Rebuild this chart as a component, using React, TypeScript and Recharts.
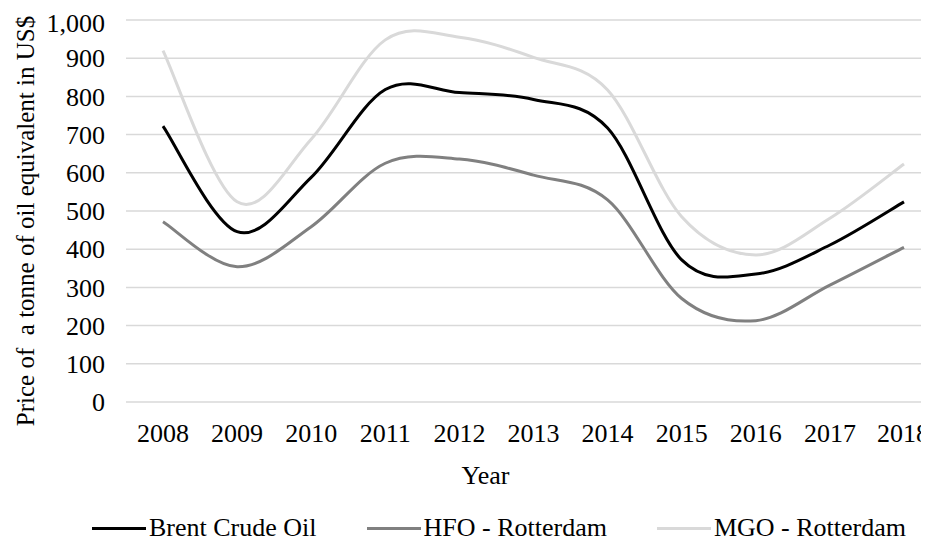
import { LineChart, Line, XAxis, YAxis, CartesianGrid, Legend } from "recharts";

const years = ["2008", "2009", "2010", "2011", "2012", "2013", "2014", "2015", "2016", "2017", "2018"];
const brentCrude = [722, 446, 588, 818, 810, 792, 717, 372, 335, 411, 524];
const hfoRotterdam = [472, 354, 459, 625, 636, 594, 529, 271, 213, 306, 405];
const mgoRotterdam = [920, 524, 688, 948, 955, 902, 817, 485, 385, 481, 623];
const yTicks = [0, 100, 200, 300, 400, 500, 600, 700, 800, 900, 1000];

const chartData = years.map((year, i) => ({
  year,
  brent: brentCrude[i],
  hfo: hfoRotterdam[i],
  mgo: mgoRotterdam[i],
}));

const lineColors: Record<string, string> = { brent: "#000000", hfo: "#808080", mgo: "#d9d9d9" };
const font = '"Liberation Serif", "Times New Roman", serif';

// Excel-like smoothed line (catmull-rom style bezier)
const excelSmooth = (context: any) => {
  let pts: number[][] = [];
  return {
    areaStart() {},
    areaEnd() {},
    lineStart() {
      pts = [];
    },
    point(x: number, y: number) {
      pts.push([+x, +y]);
    },
    lineEnd() {
      if (!pts.length) return;
      context.moveTo(pts[0][0], pts[0][1]);
      for (let i = 0; i < pts.length - 1; i++) {
        const p0 = pts[i - 1] || pts[i];
        const p1 = pts[i];
        const p2 = pts[i + 1];
        const p3 = pts[i + 2] || p2;
        context.bezierCurveTo(
          p1[0] + (p2[0] - p0[0]) / 6,
          p1[1] + (p2[1] - p0[1]) / 6,
          p2[0] - (p3[0] - p1[0]) / 6,
          p2[1] - (p3[1] - p1[1]) / 6,
          p2[0],
          p2[1]
        );
      }
    },
  };
};

const LegendContent = ({ payload }: any) => (
  <div style={{ display: "flex", alignItems: "center", fontFamily: font, fontSize: 26, color: "#000", whiteSpace: "nowrap" }}>
    {(payload || []).map((entry: any) => (
      <div key={entry.value} style={{ display: "flex", alignItems: "center", marginRight: 50 }}>
        <div style={{ width: 54, height: 3, background: lineColors[entry.dataKey], marginRight: 3 }} />
        <span>{entry.value}</span>
      </div>
    ))}
  </div>
);

const YLabel = () => (
  <text
    x={17}
    y={213}
    transform="rotate(-90, 17, 213)"
    textAnchor="middle"
    dominantBaseline="central"
    xmlSpace="preserve"
    style={{ fill: "#000", fontSize: 25, fontFamily: font }}
  >
    Price of  a tonne of oil equivalent in US$
  </text>
);

export default function App() {
  return (
    <LineChart
      width={921}
      height={536}
      data={chartData}
      margin={{ top: 12, right: 0, bottom: 42, left: 0 }}
      style={{ fontFamily: font }}
    >
      <CartesianGrid vertical={false} stroke="#d9d9d9" strokeWidth={1.5} />
      <XAxis
        dataKey="year"
        height={100}
        padding={{ left: 37, right: 25 }}
        axisLine={false}
        tickLine={false}
        tickSize={0}
        tickMargin={22}
        tick={{ fill: "#000", fontSize: 26, fontFamily: font }}
        label={{
          value: "Year",
          position: "insideTop",
          offset: 64,
          dx: -42,
          style: { fill: "#000", fontSize: 26, fontFamily: font },
        }}
      />
      <YAxis
        width={118}
        domain={[0, 1000]}
        ticks={yTicks}
        axisLine={false}
        tickLine={false}
        tickSize={0}
        tickMargin={21}
        tickFormatter={(v: number) => v.toLocaleString("en-US")}
        tick={{ fill: "#000", fontSize: 26, fontFamily: font }}
        label={<YLabel />}
      />
      <Legend
        layout="horizontal"
        verticalAlign="middle"
        align="center"
        content={<LegendContent />}
        wrapperStyle={{ top: 505, left: 84, width: 837, height: 34 }}
      />
      <Line
        name="Brent Crude Oil"
        dataKey="brent"
        type={excelSmooth as any}
        stroke={lineColors.brent}
        strokeWidth={3}
        dot={false}
        isAnimationActive={false}
      />
      <Line
        name="HFO - Rotterdam"
        dataKey="hfo"
        type={excelSmooth as any}
        stroke={lineColors.hfo}
        strokeWidth={3}
        dot={false}
        isAnimationActive={false}
      />
      <Line
        name="MGO - Rotterdam"
        dataKey="mgo"
        type={excelSmooth as any}
        stroke={lineColors.mgo}
        strokeWidth={3}
        dot={false}
        isAnimationActive={false}
      />
    </LineChart>
  );
}
